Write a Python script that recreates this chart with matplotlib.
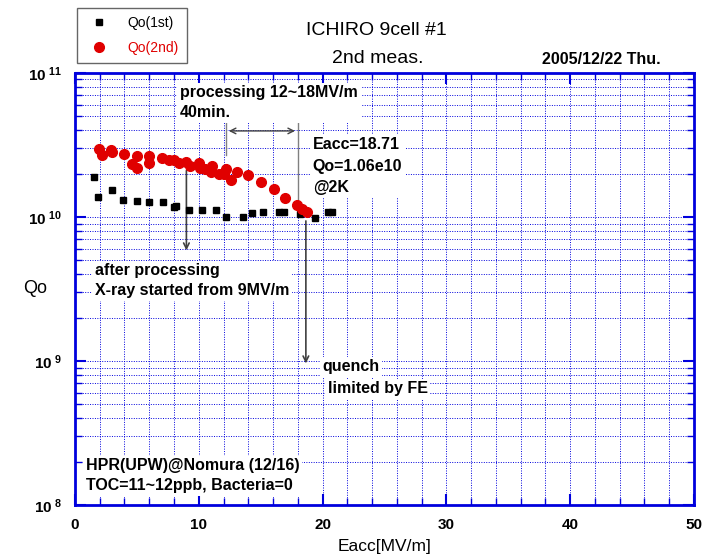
import matplotlib
matplotlib.use("Agg")
import matplotlib.pyplot as plt
import numpy as np
from matplotlib.ticker import MultipleLocator, LogLocator, FuncFormatter, NullFormatter

plt.rcParams['font.family'] = ['Liberation Sans', 'DejaVu Sans']
plt.rcParams['mathtext.fontset'] = 'custom'
plt.rcParams['mathtext.rm'] = 'Liberation Sans'
plt.rcParams['mathtext.bf'] = 'Liberation Sans:bold'

# Qo(1st) - czarne kwadraty
eacc_1st = [1.5, 1.9, 3.0, 3.9, 5.0, 6.0, 7.15, 8.0, 8.2, 9.2, 10.3, 11.4, 12.2,
            13.55, 14.3, 15.2, 16.5, 16.9, 18.15, 19.4, 20.4, 20.8]
qo_1st = [1.89e10, 1.37e10, 1.54e10, 1.31e10, 1.28e10, 1.26e10, 1.26e10, 1.17e10,
          1.19e10, 1.12e10, 1.11e10, 1.11e10, 1.005e10, 1.005e10, 1.07e10, 1.08e10,
          1.08e10, 1.08e10, 1.045e10, 0.99e10, 1.08e10, 1.08e10]

# Qo(2nd) - czerwone kolka
eacc_2nd = [1.95, 2.2, 2.95, 3.0, 4.0, 5.0, 4.6, 5.0, 6.0, 6.0, 7.0, 7.6, 8.0, 8.4,
            9.0, 9.3, 10.0, 10.1, 10.5, 11.1, 11.0, 11.6, 12.2, 12.0, 12.6, 13.1,
            14.0, 15.0, 16.1, 17.0, 17.9, 18.3, 18.75]
qo_2nd = [2.95e10, 2.7e10, 2.9e10, 2.8e10, 2.72e10, 2.65e10, 2.32e10, 2.2e10, 2.65e10,
          2.37e10, 2.55e10, 2.5e10, 2.5e10, 2.37e10, 2.42e10, 2.25e10, 2.37e10, 2.2e10,
          2.15e10, 2.27e10, 2.06e10, 2.0e10, 2.15e10, 2.0e10, 1.8e10, 2.04e10, 1.96e10,
          1.76e10, 1.56e10, 1.35e10, 1.21e10, 1.14e10, 1.08e10]

blue = '#0000dd'
gray = '#808080'

fig = plt.figure(figsize=(7.14, 5.6), dpi=100)
ax = fig.add_axes([0.105, 0.098, 0.867, 0.772])

ax.set_yscale('log')
ax.set_xlim(0, 50)
ax.set_ylim(1e8, 1e11)

# siatka
ax.xaxis.set_major_locator(MultipleLocator(10))
ax.xaxis.set_minor_locator(MultipleLocator(2))
ax.yaxis.set_major_locator(LogLocator(base=10))
ax.yaxis.set_minor_locator(LogLocator(base=10, subs=np.arange(2, 10)))
ax.yaxis.set_minor_formatter(NullFormatter())
ax.yaxis.set_major_formatter(FuncFormatter(
    lambda v, p: r'$\mathbf{10^{\ %d}}$' % round(np.log10(v))))
ax.grid(True, which='both', color=blue, linestyle=(0, (1, 1.5)), linewidth=0.7, zorder=0)
ax.set_axisbelow(True)

for s in ax.spines.values():
    s.set_color(blue)
    s.set_linewidth(2)
ax.tick_params(which='both', direction='in', top=True, right=True, color=blue)
ax.tick_params(which='major', length=8, width=1.5, labelsize=11, pad=9)
ax.tick_params(which='minor', length=5, width=1)
for lab in ax.get_xticklabels():
    lab.set_fontweight('bold')

l1, = ax.plot(eacc_1st, qo_1st, 's', color='black', markersize=5, label='Qo(1st)', zorder=3)
l2, = ax.plot(eacc_2nd, qo_2nd, 'o', color='#e00000', markersize=7, label='Qo(2nd)', zorder=3)

ax.set_xlabel('Eacc[MV/m]', fontsize=12.5, labelpad=5)
ax.set_ylabel('Qo', fontsize=13, rotation=0, va='center', ha='center')
ax.yaxis.set_label_coords(-0.065, 0.5)

# adnotacje - linie
ax.plot([12.2, 12.2], [4.6e10, 2.7e10], color=gray, lw=1, zorder=2)
ax.plot([18.0, 18.0], [4.6e10, 1.15e10], color=gray, lw=1, zorder=2)
ax.annotate('', xy=(12.2, 3.95e10), xytext=(18.0, 3.95e10),
            arrowprops=dict(arrowstyle='<->', color='#404040', lw=1), zorder=2)
ax.annotate('', xy=(9.0, 5.6e9), xytext=(9.0, 2.19e10),
            arrowprops=dict(arrowstyle='->', color='#404040', lw=1.2), zorder=2)
ax.annotate('', xy=(18.65, 9.2e8), xytext=(18.65, 9.8e9),
            arrowprops=dict(arrowstyle='->', color='#404040', lw=1.2), zorder=2)

box = dict(facecolor='white', edgecolor='none', pad=2)
tk = dict(fontsize=11.5, fontweight='bold', bbox=box, zorder=4, va='center')
ax.text(8.5, 6.2e10, 'processing 12~18MV/m\n40min.', linespacing=1.4, **tk)
ax.text(19.2, 2.25e10, 'Eacc=18.71\nQo=1.06e10\n@2K', linespacing=1.55, **tk)
ax.text(1.6, 3.6e9, 'after processing\nX-ray started from 9MV/m', linespacing=1.4, **tk)
ax.text(20.0, 9.1e8, 'quench', **tk)
ax.text(20.4, 6.4e8, 'limited by FE', **tk)
ax.text(0.9, 1.6e8, 'HPR(UPW)@Nomura (12/16)\nTOC=11~12ppb, Bacteria=0', linespacing=1.4, **tk)

# tytul
fig.text(0.527, 0.945, 'ICHIRO 9cell #1', fontsize=14, ha='center', va='center')
fig.text(0.529, 0.895, '2nd meas.', fontsize=14, ha='center', va='center')
fig.text(0.842, 0.893, '2005/12/22 Thu.', fontsize=11.5, fontweight='bold', ha='center', va='center')

leg = fig.legend(handles=[l1, l2], loc='upper left', bbox_to_anchor=(0.108, 0.986),
                 frameon=True, fancybox=False, edgecolor='#404040', fontsize=10,
                 handletextpad=1.0, borderpad=0.6, labelspacing=0.75, borderaxespad=0)
leg.get_frame().set_linewidth(1)
leg.get_texts()[1].set_color('#e00000')

fig.savefig('out.png', dpi=100)
